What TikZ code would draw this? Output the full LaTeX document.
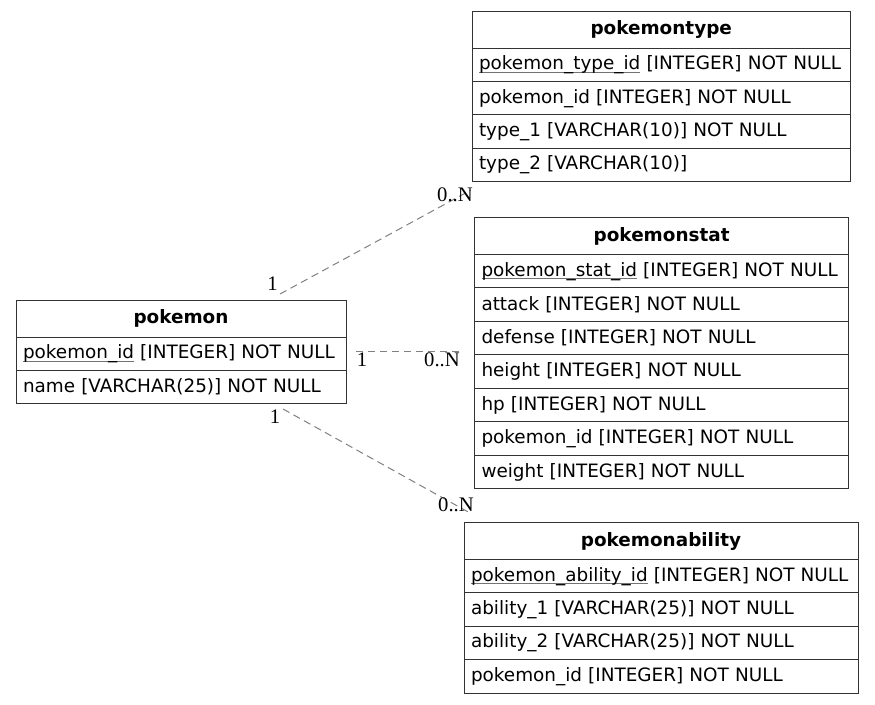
\documentclass[tikz,border=0pt]{standalone}
\usepackage{fontspec}
\setmainfont{DejaVu Sans}
\newfontfamily\lblfont{Liberation Serif}
\usetikzlibrary{positioning}
\colorlet{edgx}{black!50}
\colorlet{bdx}{black!80}
\newcommand{\pk}[1]{\setbox0\hbox{#1}\rlap{\color{black!55}\rule[-2.4pt]{\wd0}{0.7pt}}\box0\relax}
\tikzset{
    tbl/.style={draw=bdx,line width=0.75pt,outer sep=0pt,inner xsep=5.25pt,inner ysep=0pt,
        text width=#1,font=\fontsize{13.8}{16}\selectfont},
    hd/.style={tbl=#1,minimum height=27.75pt,align=center,anchor=north west,
        font=\fontsize{13.8}{16}\selectfont\bfseries},
    rw/.style={tbl=#1,minimum height=25.1pt,align=left},
    rel/.style={edgx,line width=0.75pt,dash pattern=on 5.5pt off 3.5pt},
    card/.style={inner sep=0pt,font=\lblfont\fontsize{15.5}{16}\selectfont}
}
\begin{document}
\begin{tikzpicture}[x=0.75pt,y=-0.75pt]
        \useasboundingbox (0,0) rectangle (875,704);
        % tables
        \node [hd=237pt] (pk0) at (16,300) {pokemon};
        \foreach \t [count=\i, evaluate=\i as \j using int(\i-1)] in {
            {\pk{pokemon\_id} [INTEGER] NOT NULL},
            {name [VARCHAR(25)] NOT NULL}
        } {
            \node [rw=237pt,below=0pt of pk\j] (pk\i) {\t};
        }
        \node [hd=273.3pt] (ty0) at (472,11) {pokemontype};
        \foreach \t [count=\i, evaluate=\i as \j using int(\i-1)] in {
            {\pk{pokemon\_type\_id} [INTEGER] NOT NULL},
            {pokemon\_id [INTEGER] NOT NULL},
            {type\_1 [VARCHAR(10)] NOT NULL},
            {type\_2 [VARCHAR(10)]}
        } {
            \node [rw=273.3pt,below=0pt of ty\j] (ty\i) {\t};
        }
        \node [hd=270.2pt] (st0) at (474.5,217.5) {pokemonstat};
        \foreach \t [count=\i, evaluate=\i as \j using int(\i-1)] in {
            {\pk{pokemon\_stat\_id} [INTEGER] NOT NULL},
            {attack [INTEGER] NOT NULL},
            {defense [INTEGER] NOT NULL},
            {height [INTEGER] NOT NULL},
            {hp [INTEGER] NOT NULL},
            {pokemon\_id [INTEGER] NOT NULL},
            {weight [INTEGER] NOT NULL}
        } {
            \node [rw=270.2pt,below=0pt of st\j] (st\i) {\t};
        }
        \node [hd=285pt] (ab0) at (464,522.5) {pokemonability};
        \foreach \t [count=\i, evaluate=\i as \j using int(\i-1)] in {
            {\pk{pokemon\_ability\_id} [INTEGER] NOT NULL},
            {ability\_1 [VARCHAR(25)] NOT NULL},
            {ability\_2 [VARCHAR(25)] NOT NULL},
            {pokemon\_id [INTEGER] NOT NULL}
        } {
            \node [rw=285pt,below=0pt of ab\j] (ab\i) {\t};
        }
        % relations
        \coordinate (ty-a) at (280,294);
        \coordinate (ty-b) at (471,190);
        \coordinate (st-a) at (356,351);
        \coordinate (st-b) at (462,351);
        \coordinate (ab-a) at (283,409);
        \coordinate (ab-b) at (470,513);
        \draw [rel] (ty-a) -- (ty-b);
        \draw [rel] (st-a) -- (st-b);
        \draw [rel] (ab-a) -- (ab-b);
        \node [card] (ty-c1) at (272.5,283.5) {1};
        \node [card] (ty-c2) at (455,195) {0..N};
        \node [card] (st-c1) at (362,360) {1};
        \node [card] (st-c2) at (442,360) {0..N};
        \node [card] (ab-c1) at (275,417) {1};
        \node [card] (ab-c2) at (456,505) {0..N};
    \end{tikzpicture}
\end{document}
